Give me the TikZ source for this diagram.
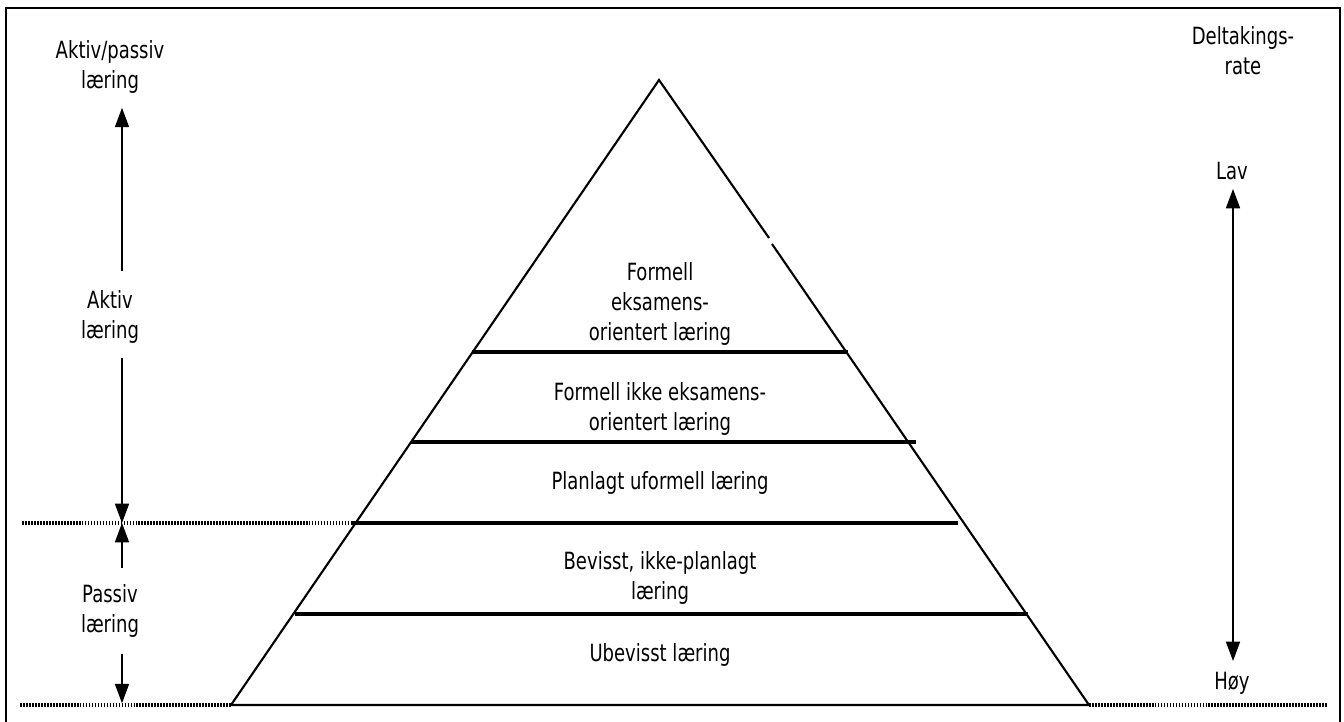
\documentclass[tikz,border=0pt]{standalone}
\usepackage{fontspec}
\setmainfont{DejaVu Sans}
\usepackage{tikz}
\usetikzlibrary{arrows.meta}

\tikzset{
  lbl/.style={font=\fontsize{13.5}{17}\selectfont, align=center, xscale=0.76, inner sep=3pt},
  layer/.style={line width=2pt},
  side/.style={line width=1.2pt},
  dots/.style={line width=2pt, dash pattern=on 1pt off 0.7pt},
}

\begin{document}
\begin{tikzpicture}[>={Triangle[width=8pt,length=11pt]}, x=0.02cm, y=-0.02cm]

    \useasboundingbox (0,0) rectangle (1344,722);
    % frame (bottom edge falls outside the page)
    \draw[line width=1.2pt] (6,722) -- (6,8) -- (1340,8) -- (1340,722);

    % the pyramid, right side has a small break
    \draw[side] (769,238) -- (659,80) -- (231,705) -- (1089,705) -- (772,244);

    % layer borders
    \draw[layer] (472,352) -- (848,352);
    \draw[layer] (411,442) -- (916,442);
    \draw[layer] (352,523) -- (958,523);
    \draw[layer] (295,614) -- (1028,614);

    % dotted boundaries
    \draw[dots] (22,523) -- (352,523);
    \draw[dots] (20,705) -- (231,705);
    \draw[dots] (1089,705) -- (1327,705);

    % layer texts
    \node[lbl] (exam) at (660,304) {Formell\\eksamens-\\orientert læring};
    \node[lbl] (ikke) at (660,409) {Formell ikke eksamens-\\orientert læring};
    \node[lbl] (plan) at (660,483) {Planlagt uformell læring};
    \node[lbl] (bev) at (660,578) {Bevisst, ikke-planlagt\\læring};
    \node[lbl] (ubev) at (660,655) {Ubevisst læring};

    % left scale
    \node[lbl] (ap) at (110,67) {Aktiv/passiv\\læring};
    \node[lbl] (aktiv) at (110,317) {Aktiv\\læring};
    \node[lbl] (passiv) at (110,611) {Passiv\\læring};
    \coordinate (skille) at (122,523);
    \coordinate (bunn) at (122,705);

    \draw[->, thick, shorten <=8pt, shorten >=5pt] (aktiv.north -| skille) -- (ap.south -| skille);
    \draw[->, thick, shorten <=5pt] (aktiv.south -| skille) -- (skille);
    \draw[->, thick, shorten <=6pt] (passiv.north -| skille) -- (skille);
    \draw[->, thick, shorten <=6pt, shorten >=1pt] (passiv.south -| skille) -- (bunn);

    % right scale
    \node[lbl] (rate) at (1243,51) {Deltakings-\\rate};
    \node[lbl] (lav) at (1232,171) {Lav};
    \node[lbl] (hoy) at (1232,683) {Høy};

    \draw[<->, thick, shorten <=2pt, shorten >=3pt] (lav.south -| 1233,0) -- (hoy.north -| 1233,0);

\end{tikzpicture}
\end{document}
